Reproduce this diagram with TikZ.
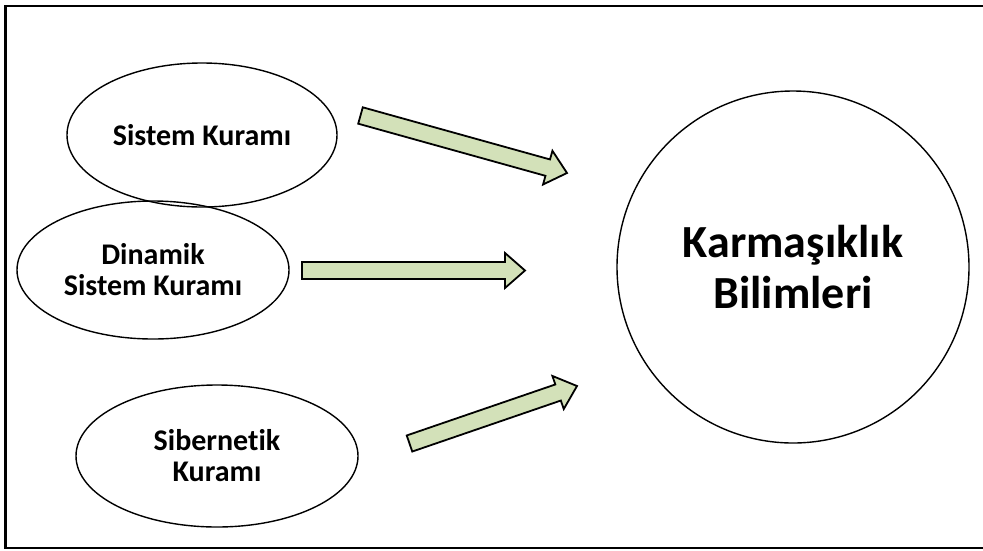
\documentclass[tikz,border=0pt]{standalone}
\usepackage{fontspec}
\setmainfont{Carlito}[Ligatures=NoCommon]
\usetikzlibrary{shapes.geometric,calc}
\definecolor{arrowgreen}{HTML}{D3E1B9}
\tikzset{
  ellnode/.style={draw=black, line width=1.4pt, ellipse, inner sep=0pt, align=center,
    font=\bfseries\fontsize{30}{31}\selectfont},
  bignode/.style={draw=black, line width=1.4pt, circle, inner sep=0pt, align=center,
    font=\bfseries\fontsize{46}{51}\selectfont},
  frame/.style={draw=black, line width=2.3pt},
  blockarrow/.style={draw=black, fill=arrowgreen, line width=1.8pt, line join=miter},
}
\newcommand\blockarr[2]{%
  \path (#2) coordinate (ba-tip) ($(#2)!20pt!(#1)$) coordinate (ba-base);
  \draw[blockarrow]
    ($(#1)!8.5pt!90:(ba-tip)$) --
    ($(ba-base)!8.5pt!90:(ba-tip)$) --
    ($(ba-base)!17.5pt!90:(ba-tip)$) --
    (ba-tip) --
    ($(ba-base)!17.5pt!-90:(ba-tip)$) --
    ($(ba-base)!8.5pt!-90:(ba-tip)$) --
    ($(#1)!8.5pt!-90:(ba-tip)$) -- cycle;
}
\begin{document}
\begin{tikzpicture}[x=1pt,y=-1pt]
  \clip (0,0) rectangle (983,550);
  \draw[frame] (5.5,6) rectangle (995,548);

  \node[ellnode, minimum width=270pt, minimum height=144pt] (sk) at (202,135) {Sistem Kuramı};
  \node[ellnode, minimum width=272pt, minimum height=138pt] (dsk) at (153,270) {Dinamik\\Sistem Kuramı};
  \node[ellnode, minimum width=282pt, minimum height=142pt] (sib) at (217,456) {Sibernetik\\Kuramı};
  \node[bignode, minimum size=352pt] (kb) at (793,267) {Karmaşıklık\\Bilimleri};

  \coordinate (a1s) at (360.5,115.5);
  \coordinate (a1e) at (567,173);
  \coordinate (a2s) at (302,270.5);
  \coordinate (a2e) at (525,270.5);
  \coordinate (a3s) at (409.5,443.5);
  \coordinate (a3e) at (577,386);
  \blockarr{a1s}{a1e}
  \blockarr{a2s}{a2e}
  \blockarr{a3s}{a3e}
\end{tikzpicture}
\end{document}
